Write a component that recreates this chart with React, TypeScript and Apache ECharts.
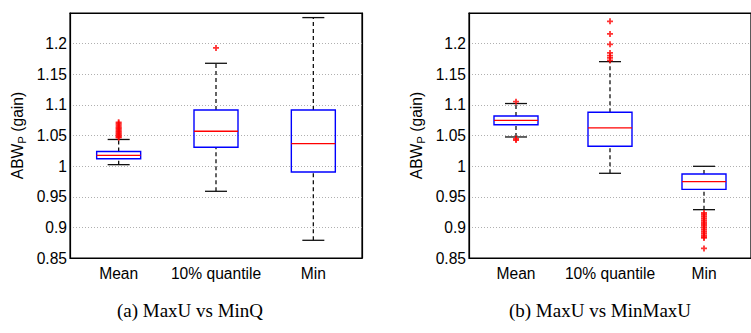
import React, { useEffect, useRef } from "react";
import * as echarts from "echarts";

const categories = ["Mean", "10% quantile", "Min"];

// [lower whisker, q1, median, q3, upper whisker]
const boxesA = [
  [1.0024, 1.012, 1.0177, 1.024, 1.0435],
  [0.9589, 1.0307, 1.0569, 1.0917, 1.1679],
  [0.8789, 0.9904, 1.0367, 1.0917, 1.2425],
];
const outliersAMean = [1.0465, 1.048, 1.05, 1.052, 1.054, 1.056, 1.058, 1.06, 1.062, 1.064, 1.067, 1.0695, 1.0715];
const outliersAQuantile = [1.193];
const outliersAMin: number[] = [];

const boxesB = [
  [1.0476, 1.0675, 1.0748, 1.0819, 1.1022],
  [0.9883, 1.0324, 1.0623, 1.0879, 1.1706],
  [0.9289, 0.9621, 0.9747, 0.9872, 0.9997],
];
const outliersBMean = [1.1053, 1.0445, 1.0425];
const outliersBQuantile = [1.2364, 1.2158, 1.1989, 1.1848, 1.1804, 1.1766, 1.1727];
const outliersBMin = [0.9235, 0.9205, 0.9175, 0.9145, 0.9115, 0.9085, 0.9055, 0.9025, 0.8995, 0.8965, 0.8935, 0.8905, 0.8875, 0.8845, 0.8827, 0.8657];

const yTicksMin = 0.85;
const yTicksMax = 1.25;
const yTickStep = 0.05;
const captions = ["(a) MaxU vs MinQ", "(b) MaxU vs MinMaxU"];

const FONT = "Liberation Sans";
const FS = 15.6;
const PLUS = "path://M3.5,0 H6.5 V3.5 H10 V6.5 H6.5 V10 H3.5 V6.5 H0 V3.5 H3.5 Z";

function renderBox(params: any, api: any) {
  const x = api.value(0);
  const lo = api.coord([x, api.value(1)]);
  const q1 = api.coord([x, api.value(2)]);
  const med = api.coord([x, api.value(3)]);
  const q3 = api.coord([x, api.value(4)]);
  const hi = api.coord([x, api.value(5)]);
  const cx = lo[0];
  const bw = 44;
  const cw = 22;
  const black = { stroke: "#111", lineWidth: 1.3 };
  return {
    type: "group",
    children: [
      { type: "line", shape: { x1: cx, y1: q3[1], x2: cx, y2: hi[1] }, style: { ...black, lineDash: [4, 3] } },
      { type: "line", shape: { x1: cx, y1: lo[1], x2: cx, y2: q1[1] }, style: { ...black, lineDash: [4, 3] } },
      { type: "line", shape: { x1: cx - cw / 2, y1: hi[1], x2: cx + cw / 2, y2: hi[1] }, style: black },
      { type: "line", shape: { x1: cx - cw / 2, y1: lo[1], x2: cx + cw / 2, y2: lo[1] }, style: black },
      { type: "rect", shape: { x: cx - bw / 2, y: q3[1], width: bw, height: q1[1] - q3[1] }, style: { fill: "none", stroke: "#0000ff", lineWidth: 1.4 } },
      { type: "line", shape: { x1: cx - bw / 2, y1: med[1], x2: cx + bw / 2, y2: med[1] }, style: { stroke: "#ff0000", lineWidth: 1.3 } },
    ],
  };
}

function makeAxes(gi: number) {
  const tick = { inside: true, length: 4, alignWithLabel: true, lineStyle: { color: "#000" } };
  const line = { show: true, lineStyle: { color: "#000", width: 1.2 } };
  const xAxes = [
    {
      type: "category", gridIndex: gi, data: categories, position: "bottom",
      axisLine: line, axisTick: { ...tick, interval: 0 },
      axisLabel: { interval: 0, margin: 7, fontSize: FS, color: "#000", fontFamily: FONT },
      splitLine: { show: false },
    },
    {
      type: "category", gridIndex: gi, data: categories, position: "top",
      axisLine: line, axisTick: { ...tick, interval: 0 }, axisLabel: { show: false }, splitLine: { show: false },
    },
  ];
  const yAxes = [
    {
      type: "value", gridIndex: gi, min: yTicksMin, max: yTicksMax, interval: yTickStep, position: "left",
      axisLine: line, axisTick: { inside: true, length: 4, lineStyle: { color: "#000" } },
      axisLabel: {
        margin: 3, fontSize: FS, color: "#000", fontFamily: FONT,
        formatter: (v: number) => (v > 1.2001 ? "" : String(Number(v.toFixed(2)))),
      },
      splitLine: { show: true, lineStyle: { color: "#b0b0b0", type: [1, 2], width: 1 } },
      name: "{a|ABW}{b|P}{a| (gain)}",
      nameLocation: "middle",
      nameGap: 42,
      nameTextStyle: {
        rich: {
          a: { fontSize: FS, fontFamily: FONT, color: "#000", verticalAlign: "top" },
          b: { fontSize: 11.5, fontFamily: FONT, color: "#000", verticalAlign: "top", padding: [7, 0, 0, 0] },
        },
      },
    },
    {
      type: "value", gridIndex: gi, min: yTicksMin, max: yTicksMax, interval: yTickStep, position: "right",
      axisLine: line, axisTick: { inside: true, length: 4, lineStyle: { color: "#000" } },
      axisLabel: { show: false }, splitLine: { show: false },
    },
  ];
  return { xAxes, yAxes };
}

function outlierSeries(ax: number, lists: number[][]) {
  const data: number[][] = [];
  lists.forEach((l, i) => l.forEach((v) => data.push([i, v])));
  return {
    type: "scatter", xAxisIndex: ax, yAxisIndex: ax, data,
    symbol: PLUS, symbolSize: 6, itemStyle: { color: "#ff0000" }, z: 5,
  };
}

export default function App() {
  const ref = useRef<HTMLDivElement>(null);
  useEffect(() => {
    if (!ref.current) return;
    const chart = echarts.init(ref.current, null, { renderer: "svg" });
    const a = makeAxes(0);
    const b = makeAxes(1);
    chart.setOption({
      animation: false,
      backgroundColor: "#fff",
      grid: [
        { left: 70, top: 13, width: 292, height: 245, show: true, borderColor: "#000", borderWidth: 1.2, backgroundColor: "transparent" },
        { left: 469, top: 13, width: 288, height: 245, show: true, borderColor: "#000", borderWidth: 1.2, backgroundColor: "transparent" },
      ],
      xAxis: [...a.xAxes, ...b.xAxes],
      yAxis: [...a.yAxes, ...b.yAxes],
      series: [
        {
          type: "custom", xAxisIndex: 0, yAxisIndex: 0, renderItem: renderBox,
          data: boxesA.map((bx, i) => [i, ...bx]), encode: { x: 0, y: [1, 2, 3, 4, 5] }, z: 3,
        },
        {
          type: "custom", xAxisIndex: 2, yAxisIndex: 2, renderItem: renderBox,
          data: boxesB.map((bx, i) => [i, ...bx]), encode: { x: 0, y: [1, 2, 3, 4, 5] }, z: 3,
        },
        outlierSeries(0, [outliersAMean, outliersAQuantile, outliersAMin]),
        outlierSeries(2, [outliersBMean, outliersBQuantile, outliersBMin]),
      ],
      graphic: [
        {
          type: "text", x: 190, y: 310,
          style: { text: captions[0], fill: "#000", font: '19px "Liberation Serif"', textAlign: "center", textVerticalAlign: "middle" },
        },
        {
          type: "text", x: 600, y: 310,
          style: { text: captions[1], fill: "#000", font: '19px "Liberation Serif"', textAlign: "center", textVerticalAlign: "middle" },
        },
      ],
    });
    return () => chart.dispose();
  }, []);
  return (
    <div
      ref={ref}
      style={{ position: "absolute", left: 0, top: 0, width: 751, height: 333, background: "#fff" }}
    />
  );
}
